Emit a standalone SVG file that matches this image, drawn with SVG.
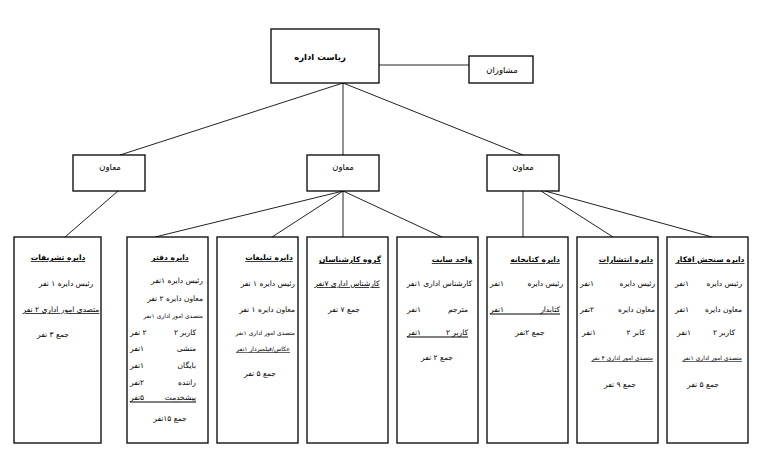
<svg xmlns="http://www.w3.org/2000/svg" width="773" height="459" viewBox="0 0 773 459">
<style>
rect{fill:#fff;stroke:#000;stroke-width:1.3}
line{stroke:#222;stroke-width:1}
text{font-family:"DejaVu Sans",sans-serif;fill:#000;font-size:7.5px}
.h{font-weight:bold;font-size:7.5px;text-decoration:underline}
.u{text-decoration:underline}
.s{font-size:6px}
.r{text-anchor:end}
.l{text-anchor:start}
.c{text-anchor:middle}
.t{font-weight:bold;font-size:8.5px}
.m{font-size:8.5px}
</style>
<rect x="0" y="0" width="773" height="459" style="fill:#fff;stroke:none"/>
<g id="connectors">
<line x1="379" y1="65" x2="469" y2="65"/>
<line x1="343" y1="83" x2="343" y2="155"/>
<line x1="343" y1="83" x2="120" y2="155"/>
<line x1="343" y1="83" x2="523" y2="155"/>
<line x1="118" y1="191" x2="65" y2="237"/>
<line x1="343" y1="191" x2="155" y2="237"/>
<line x1="343" y1="191" x2="272" y2="237"/>
<line x1="343" y1="191" x2="343" y2="237"/>
<line x1="343" y1="191" x2="442" y2="237"/>
<line x1="523" y1="191" x2="523" y2="237"/>
<line x1="541" y1="191" x2="613" y2="237"/>
<line x1="545" y1="191" x2="712" y2="237"/>
</g>
<g id="head">
<rect x="271" y="29" width="108" height="54"/>
<text class="t c" x="320" y="60">ریاست اداره</text>
</g>
<g id="advisors">
<rect x="469" y="56" width="64" height="27"/>
<text class="c m" x="502" y="73">مشاوران</text>
</g>
<g id="deputy1">
<rect x="73" y="155" width="72" height="36"/>
<text class="c m" x="110" y="170">معاون</text>
</g>
<g id="deputy2">
<rect x="307" y="155" width="72" height="36"/>
<text class="c m" x="343" y="170">معاون</text>
</g>
<g id="deputy3">
<rect x="487" y="155" width="72" height="36"/>
<text class="c m" x="523" y="170">معاون</text>
</g>
<g id="box1">
<rect x="14" y="237" width="87" height="206"/>
<text class="h c" x="58" y="260">دایره تشریفات</text>
<text class="c" x="66" y="286">رئیس دایره ۱ نفر</text>
<text class="u c" x="61" y="312">متصدی امور اداری ۲ نفر</text>
<text class="c" x="53" y="337">جمع ۳ نفر</text>
</g>
<g id="box2">
<rect x="127" y="237" width="81" height="206"/>
<text class="h c" x="170" y="260">دایره دفتر</text>
<text class="r" x="203" y="283">رئیس دایره ۱نفر</text>
<text class="r" x="203" y="301">معاون دایره ۲ نفر</text>
<text class="r s" x="203" y="318">متصدی امور اداری ۱نفر</text>
<text class="r" x="196" y="335">کاربر ۲</text><text class="l" x="130" y="335">&#x200F;۲ نفر</text>
<text class="r" x="196" y="351">منشی</text><text class="l" x="130" y="351">&#x200F;۱نفر</text>
<text class="r" x="196" y="368">بایگان</text><text class="l" x="130" y="368">&#x200F;۱نفر</text>
<text class="r" x="196" y="385">راننده</text><text class="l" x="130" y="385">&#x200F;۲نفر</text>
<text class="r" x="196" y="400">پیشخدمت</text><text class="l" x="130" y="400">&#x200F;۵نفر</text>
<line x1="130" y1="402" x2="196" y2="402" style="stroke:#000"/>
<text class="c" x="170" y="421">جمع ۱۵نفر</text>
</g>
<g id="box3">
<rect x="217" y="237" width="81" height="206"/>
<text class="h c" x="269" y="260">دایره تبلیغات</text>
<text class="r" x="295" y="286">رئیس دایره ۱ نفر</text>
<text class="r" x="295" y="312">معاون دایره ۱ نفر</text>
<text class="r s" x="295" y="335">متصدی امور اداری ۱نفر</text>
<text class="r s u" x="290" y="351">عکاس/فیلمبردار ۱نفر</text>
<text class="c" x="260" y="376">جمع ۵ نفر</text>
</g>
<g id="box4">
<rect x="307" y="237" width="81" height="206"/>
<text class="h c" x="350" y="262">گروه کارشناسان</text>
<text class="u c" x="347" y="286">کارشناس اداری ۷نفر</text>
<text class="c" x="344" y="312">جمع ۷ نفر</text>
</g>
<g id="box5">
<rect x="397" y="237" width="81" height="206"/>
<text class="h c" x="452" y="262">واحد سایت</text>
<text class="r" x="472" y="286">کارشناس اداری ۱نفر</text>
<text class="r" x="468" y="312">مترجم</text><text class="l" x="407" y="312">&#x200F;۱نفر</text>
<text class="r" x="468" y="335">کاربر ۲</text><text class="l" x="407" y="335">&#x200F;۱نفر</text>
<line x1="407" y1="337" x2="468" y2="337" style="stroke:#000"/>
<text class="c" x="437" y="360">جمع ۲ نفر</text>
</g>
<g id="box6">
<rect x="487" y="237" width="81" height="206"/>
<text class="h c" x="535" y="262">دایره کتابخانه</text>
<text class="r" x="563" y="286">رئیس دایره</text><text class="l" x="490" y="286">&#x200F;۱نفر</text>
<text class="r" x="560" y="312">کتابدار</text><text class="l" x="490" y="312">&#x200F;۱نفر</text>
<line x1="490" y1="314" x2="560" y2="314" style="stroke:#000"/>
<text class="c" x="530" y="335">جمع ۲نفر</text>
</g>
<g id="box7">
<rect x="577" y="237" width="81" height="206"/>
<text class="h c" x="626" y="262">دایره انتشارات</text>
<text class="r" x="655" y="286">رئیس دایره</text><text class="l" x="580" y="286">&#x200F;۱نفر</text>
<text class="r" x="655" y="312">معاون دایره</text><text class="l" x="580" y="312">&#x200F;۲نفر</text>
<text class="r" x="645" y="335">کابر ۲</text><text class="l" x="582" y="335">&#x200F;۱نفر</text>
<text class="r s u" x="653" y="360">متصدی امور اداری ۴ نفر</text>
<text class="c" x="620" y="387">جمع ۹ نفر</text>
</g>
<g id="box8">
<rect x="667" y="237" width="81" height="206"/>
<text class="h c" x="710" y="262">دایره سنجش افکار</text>
<text class="r" x="742" y="286">رئیس دایره</text><text class="l" x="675" y="286">&#x200F;۱نفر</text>
<text class="r" x="742" y="312">معاون دایره</text><text class="l" x="675" y="312">&#x200F;۱نفر</text>
<text class="r" x="735" y="335">کاربر ۲</text><text class="l" x="677" y="335">&#x200F;۱نفر</text>
<text class="r s u" x="742" y="360">متصدی امور اداری ۱نفر</text>
<text class="c" x="703" y="387">جمع ۵ نفر</text>
</g>
</svg>
